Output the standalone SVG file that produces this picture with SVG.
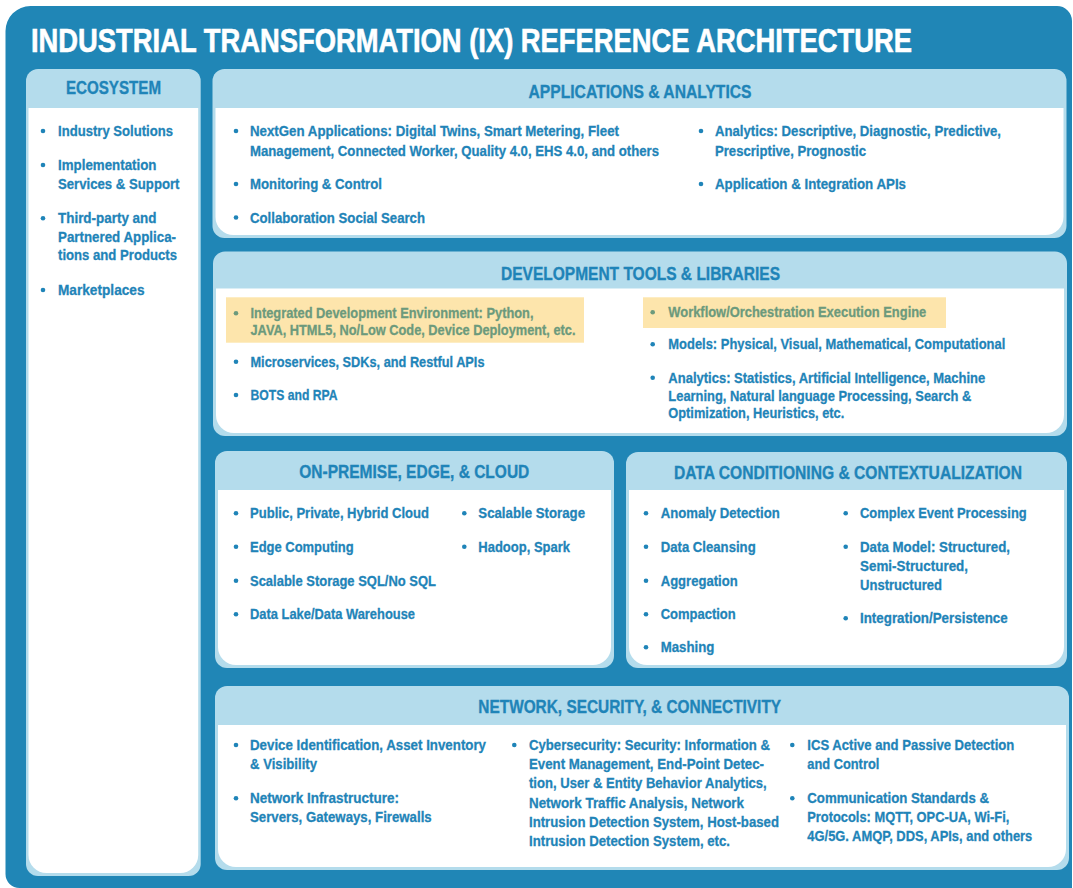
<svg xmlns="http://www.w3.org/2000/svg" width="1073" height="888" viewBox="0 0 1073 888">
  <style>
    .frame { fill: #2086b6; }
    .panel { fill: #b4dcec; }
    .body { fill: #ffffff; }
    .hl { fill: #fde5ac; }
    .title { font-family: "Liberation Sans", Arial, sans-serif; font-weight: bold; font-size: 33px; fill: #ffffff; stroke: #ffffff; stroke-width: 0.6; }
    .hd { font-family: "Liberation Sans", Arial, sans-serif; font-weight: bold; font-size: 18px; fill: #1f84b8; stroke: #1f84b8; stroke-width: 0.35; text-anchor: middle; }
    .t { font-family: "Liberation Sans", Arial, sans-serif; font-weight: bold; font-size: 15.3px; fill: #1f84b8; stroke: #1f84b8; stroke-width: 0.3; }
    .tg { font-family: "Liberation Sans", Arial, sans-serif; font-weight: bold; font-size: 15.3px; fill: #6c9a7c; stroke: #6c9a7c; stroke-width: 0.3; }
    .dot { fill: #1f84b8; }
    .dotg { fill: #6c9a7c; }
  </style>

  <!-- outer frame -->
  <path class="frame" d="M5.5 31 A25 25 0 0 1 30.5 6 H1057 A15 15 0 0 1 1072 21 V888 H19.5 A14 14 0 0 1 5.5 874 Z"/>
  <!-- condensed title: narrowed horizontally -->
  <text class="title" transform="scale(0.8,1)" x="38.75" y="52" textLength="1101.25" lengthAdjust="spacingAndGlyphs">INDUSTRIAL TRANSFORMATION (IX) REFERENCE ARCHITECTURE</text>

  <!-- ecosystem column -->
  <g id="ecosystem">
    <rect class="panel" x="26" y="69" width="174.7" height="807" rx="12"/>
    <path class="body" d="M28.5 108 H198.2 V855 A18 18 0 0 1 180.2 873 H46.5 A18 18 0 0 1 28.5 855 Z"/>
    <text class="hd" x="113.5" y="94" textLength="95" lengthAdjust="spacingAndGlyphs">ECOSYSTEM</text>
    <circle class="dot" cx="43" cy="131" r="2.3"/>
    <text class="t" x="58" y="136" textLength="115" lengthAdjust="spacingAndGlyphs">Industry Solutions</text>
    <circle class="dot" cx="43" cy="165" r="2.3"/>
    <text class="t" x="58" y="170" textLength="98.5" lengthAdjust="spacingAndGlyphs">Implementation</text>
    <text class="t" x="58" y="189" textLength="121.5" lengthAdjust="spacingAndGlyphs">Services &amp; Support</text>
    <circle class="dot" cx="43" cy="218.3" r="2.3"/>
    <text class="t" x="58" y="223.3" textLength="98.5" lengthAdjust="spacingAndGlyphs">Third-party and</text>
    <text class="t" x="58" y="241.7" textLength="118" lengthAdjust="spacingAndGlyphs">Partnered Applica-</text>
    <text class="t" x="58" y="260" textLength="119" lengthAdjust="spacingAndGlyphs">tions and Products</text>
    <circle class="dot" cx="43" cy="290" r="2.3"/>
    <text class="t" x="58" y="295" textLength="86.5" lengthAdjust="spacingAndGlyphs">Marketplaces</text>
  </g>

  <!-- applications & analytics -->
  <g id="applications">
    <rect class="panel" x="212.5" y="69" width="854" height="169" rx="12"/>
    <path class="body" d="M215.5 108 H1063.5 V217 A18 18 0 0 1 1045.5 235 H233.5 A18 18 0 0 1 215.5 217 Z"/>
    <text class="hd" x="640" y="97.5" textLength="223" lengthAdjust="spacingAndGlyphs">APPLICATIONS &amp; ANALYTICS</text>
    <circle class="dot" cx="236" cy="131" r="2.3"/>
    <text class="t" x="250" y="136" textLength="369" lengthAdjust="spacingAndGlyphs">NextGen Applications: Digital Twins, Smart Metering, Fleet</text>
    <text class="t" x="250" y="155.5" textLength="409" lengthAdjust="spacingAndGlyphs">Management, Connected Worker, Quality 4.0, EHS 4.0, and others</text>
    <circle class="dot" cx="236" cy="184" r="2.3"/>
    <text class="t" x="250" y="189" textLength="132" lengthAdjust="spacingAndGlyphs">Monitoring &amp; Control</text>
    <circle class="dot" cx="236" cy="217.5" r="2.3"/>
    <text class="t" x="250" y="222.5" textLength="175" lengthAdjust="spacingAndGlyphs">Collaboration Social Search</text>
    <circle class="dot" cx="701" cy="131" r="2.3"/>
    <text class="t" x="715" y="136" textLength="286" lengthAdjust="spacingAndGlyphs">Analytics: Descriptive, Diagnostic, Predictive,</text>
    <text class="t" x="715" y="155.5" textLength="151" lengthAdjust="spacingAndGlyphs">Prescriptive, Prognostic</text>
    <circle class="dot" cx="701" cy="184" r="2.3"/>
    <text class="t" x="715" y="189" textLength="191" lengthAdjust="spacingAndGlyphs">Application &amp; Integration APIs</text>
  </g>

  <!-- development tools & libraries -->
  <g id="devtools">
    <rect class="panel" x="213" y="251.5" width="854" height="184.5" rx="12"/>
    <path class="body" d="M216 288.5 H1064 V415 A18 18 0 0 1 1046 433 H234 A18 18 0 0 1 216 415 Z"/>
    <text class="hd" x="640.5" y="279.5" textLength="279" lengthAdjust="spacingAndGlyphs">DEVELOPMENT TOOLS &amp; LIBRARIES</text>
    <rect class="hl" x="226" y="297.3" width="358" height="45.4"/>
    <circle class="dotg" cx="236" cy="313.3" r="2.3"/>
    <text class="tg" x="250.5" y="318.3" textLength="283" lengthAdjust="spacingAndGlyphs">Integrated Development Environment: Python,</text>
    <text class="tg" x="250.5" y="335" textLength="325" lengthAdjust="spacingAndGlyphs">JAVA, HTML5, No/Low Code, Device Deployment, etc.</text>
    <circle class="dot" cx="236" cy="361.7" r="2.3"/>
    <text class="t" x="250.5" y="366.7" textLength="234" lengthAdjust="spacingAndGlyphs">Microservices, SDKs, and Restful APIs</text>
    <circle class="dot" cx="236" cy="395" r="2.3"/>
    <text class="t" x="250.5" y="400" textLength="87" lengthAdjust="spacingAndGlyphs">BOTS and RPA</text>
    <rect class="hl" x="643" y="297.3" width="303" height="30.7"/>
    <circle class="dotg" cx="652.7" cy="312.3" r="2.3"/>
    <text class="tg" x="668.3" y="317.3" textLength="258" lengthAdjust="spacingAndGlyphs">Workflow/Orchestration Execution Engine</text>
    <circle class="dot" cx="652.7" cy="344.3" r="2.3"/>
    <text class="t" x="668.3" y="349.3" textLength="337" lengthAdjust="spacingAndGlyphs">Models: Physical, Visual, Mathematical, Computational</text>
    <circle class="dot" cx="652.7" cy="377.7" r="2.3"/>
    <text class="t" x="668.3" y="382.7" textLength="317" lengthAdjust="spacingAndGlyphs">Analytics: Statistics, Artificial Intelligence, Machine</text>
    <text class="t" x="668.3" y="400.5" textLength="303" lengthAdjust="spacingAndGlyphs">Learning, Natural language Processing, Search &amp;</text>
    <text class="t" x="668.3" y="418" textLength="176" lengthAdjust="spacingAndGlyphs">Optimization, Heuristics, etc.</text>
  </g>

  <!-- on-premise, edge & cloud -->
  <g id="onpremise">
    <rect class="panel" x="215" y="451" width="399" height="217" rx="12"/>
    <path class="body" d="M218 490 H611 V647 A18 18 0 0 1 593 665 H236 A18 18 0 0 1 218 647 Z"/>
    <text class="hd" x="414.3" y="477.5" textLength="230" lengthAdjust="spacingAndGlyphs">ON-PREMISE, EDGE, &amp; CLOUD</text>
    <circle class="dot" cx="236" cy="513.3" r="2.3"/>
    <text class="t" x="250" y="518.3" textLength="179" lengthAdjust="spacingAndGlyphs">Public, Private, Hybrid Cloud</text>
    <circle class="dot" cx="236" cy="546.7" r="2.3"/>
    <text class="t" x="250" y="551.7" textLength="103.7" lengthAdjust="spacingAndGlyphs">Edge Computing</text>
    <circle class="dot" cx="236" cy="580.7" r="2.3"/>
    <text class="t" x="250" y="585.7" textLength="186" lengthAdjust="spacingAndGlyphs">Scalable Storage SQL/No SQL</text>
    <circle class="dot" cx="236" cy="614.3" r="2.3"/>
    <text class="t" x="250" y="619.3" textLength="165" lengthAdjust="spacingAndGlyphs">Data Lake/Data Warehouse</text>
    <circle class="dot" cx="464.3" cy="513.3" r="2.3"/>
    <text class="t" x="478.3" y="518.3" textLength="106.7" lengthAdjust="spacingAndGlyphs">Scalable Storage</text>
    <circle class="dot" cx="464.3" cy="546.7" r="2.3"/>
    <text class="t" x="478.3" y="551.7" textLength="91.7" lengthAdjust="spacingAndGlyphs">Hadoop, Spark</text>
  </g>

  <!-- data conditioning & contextualization -->
  <g id="dataconditioning">
    <rect class="panel" x="626" y="452" width="441" height="216" rx="12"/>
    <path class="body" d="M629 490 H1064 V647 A18 18 0 0 1 1046 665 H647 A18 18 0 0 1 629 647 Z"/>
    <text class="hd" transform="scale(0.87,1)" x="974.7" y="479" textLength="400" lengthAdjust="spacingAndGlyphs">DATA CONDITIONING &amp; CONTEXTUALIZATION</text>
    <circle class="dot" cx="646" cy="513.3" r="2.3"/>
    <text class="t" x="660.7" y="518.3" textLength="119" lengthAdjust="spacingAndGlyphs">Anomaly Detection</text>
    <circle class="dot" cx="646" cy="546.7" r="2.3"/>
    <text class="t" x="660.7" y="551.7" textLength="95" lengthAdjust="spacingAndGlyphs">Data Cleansing</text>
    <circle class="dot" cx="646" cy="580.7" r="2.3"/>
    <text class="t" x="660.7" y="585.7" textLength="77" lengthAdjust="spacingAndGlyphs">Aggregation</text>
    <circle class="dot" cx="646" cy="614.3" r="2.3"/>
    <text class="t" x="660.7" y="619.3" textLength="75" lengthAdjust="spacingAndGlyphs">Compaction</text>
    <circle class="dot" cx="646" cy="647.3" r="2.3"/>
    <text class="t" x="660.7" y="652.3" textLength="53.7" lengthAdjust="spacingAndGlyphs">Mashing</text>
    <circle class="dot" cx="845.7" cy="513.3" r="2.3"/>
    <text class="t" x="860" y="518.3" textLength="166.7" lengthAdjust="spacingAndGlyphs">Complex Event Processing</text>
    <circle class="dot" cx="845.7" cy="546.7" r="2.3"/>
    <text class="t" x="860" y="551.7" textLength="150" lengthAdjust="spacingAndGlyphs">Data Model: Structured,</text>
    <text class="t" x="860" y="571" textLength="108" lengthAdjust="spacingAndGlyphs">Semi-Structured,</text>
    <text class="t" x="860" y="590" textLength="82" lengthAdjust="spacingAndGlyphs">Unstructured</text>
    <circle class="dot" cx="845.7" cy="618.3" r="2.3"/>
    <text class="t" x="860" y="623.3" textLength="147.7" lengthAdjust="spacingAndGlyphs">Integration/Persistence</text>
  </g>

  <!-- network, security & connectivity -->
  <g id="network">
    <rect class="panel" x="215" y="686" width="854" height="184" rx="12"/>
    <path class="body" d="M218 725 H1066 V849 A18 18 0 0 1 1048 867 H236 A18 18 0 0 1 218 849 Z"/>
    <text class="hd" x="629.7" y="713" textLength="302.7" lengthAdjust="spacingAndGlyphs">NETWORK, SECURITY, &amp; CONNECTIVITY</text>
    <circle class="dot" cx="236" cy="745" r="2.3"/>
    <text class="t" x="250" y="750" textLength="236" lengthAdjust="spacingAndGlyphs">Device Identification, Asset Inventory</text>
    <text class="t" x="250" y="769.3" textLength="67" lengthAdjust="spacingAndGlyphs">&amp; Visibility</text>
    <circle class="dot" cx="236" cy="798.3" r="2.3"/>
    <text class="t" x="250" y="803.3" textLength="149" lengthAdjust="spacingAndGlyphs">Network Infrastructure:</text>
    <text class="t" x="250" y="821.7" textLength="181.7" lengthAdjust="spacingAndGlyphs">Servers, Gateways, Firewalls</text>
    <circle class="dot" cx="514.3" cy="745" r="2.3"/>
    <text class="t" x="529" y="750" textLength="241" lengthAdjust="spacingAndGlyphs">Cybersecurity: Security: Information &amp;</text>
    <text class="t" x="529" y="769.3" textLength="235" lengthAdjust="spacingAndGlyphs">Event Management, End-Point Detec-</text>
    <text class="t" x="529" y="788.3" textLength="237.7" lengthAdjust="spacingAndGlyphs">tion, User &amp; Entity Behavior Analytics,</text>
    <text class="t" x="529" y="807.7" textLength="215" lengthAdjust="spacingAndGlyphs">Network Traffic Analysis, Network</text>
    <text class="t" x="529" y="826.7" textLength="250" lengthAdjust="spacingAndGlyphs">Intrusion Detection System, Host-based</text>
    <text class="t" x="529" y="846" textLength="201" lengthAdjust="spacingAndGlyphs">Intrusion Detection System, etc.</text>
    <circle class="dot" cx="792.3" cy="745" r="2.3"/>
    <text class="t" x="807.3" y="750" textLength="207" lengthAdjust="spacingAndGlyphs">ICS Active and Passive Detection</text>
    <text class="t" x="807.3" y="769.3" textLength="72" lengthAdjust="spacingAndGlyphs">and Control</text>
    <circle class="dot" cx="792.3" cy="798.3" r="2.3"/>
    <text class="t" x="807.3" y="803.3" textLength="181.7" lengthAdjust="spacingAndGlyphs">Communication Standards &amp;</text>
    <text class="t" x="807.3" y="821.7" textLength="202" lengthAdjust="spacingAndGlyphs">Protocols: MQTT, OPC-UA, Wi-Fi,</text>
    <text class="t" x="807.3" y="840.7" textLength="225" lengthAdjust="spacingAndGlyphs">4G/5G. AMQP, DDS, APIs, and others</text>
  </g>
</svg>
